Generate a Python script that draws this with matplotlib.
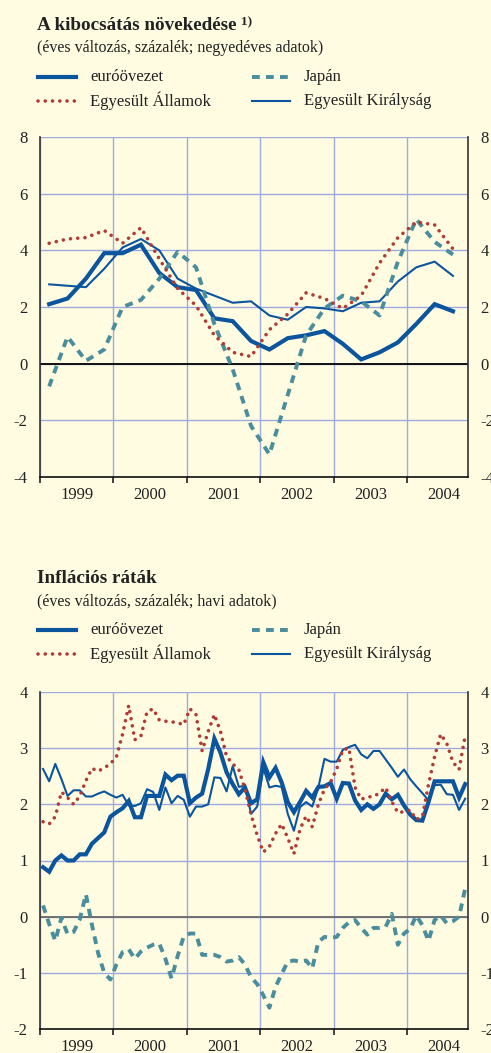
import numpy as np
import matplotlib
matplotlib.use("Agg")
import matplotlib.pyplot as plt
from matplotlib.lines import Line2D

plt.rcParams['font.family'] = ['Liberation Serif', 'DejaVu Serif']

# ---- data: output growth, quarterly 1999Q1 - 2004Q3
gdp_euro = [2.1, 2.3, 3.0, 3.9, 3.9, 4.2, 3.2, 2.7, 2.6, 1.6, 1.5, 0.8,
            0.5, 0.9, 1.0, 1.15, 0.7, 0.15, 0.4, 0.75, 1.4, 2.1, 1.85]
gdp_us = [4.25, 4.4, 4.45, 4.7, 4.25, 4.8, 3.7, 2.65, 2.05, 1.0, 0.4, 0.25,
          1.2, 1.75, 2.5, 2.3, 1.95, 2.4, 3.55, 4.45, 5.0, 4.9, 4.05]
gdp_jp = [-0.8, 0.95, 0.1, 0.5, 2.0, 2.25, 3.0, 3.95, 3.4, 1.4, -0.2, -2.2,
          -3.2, -1.1, 1.0, 1.95, 2.4, 2.2, 1.7, 3.6, 5.1, 4.3, 3.85]
gdp_uk = [2.8, 2.75, 2.7, 3.35, 4.1, 4.4, 4.0, 3.0, 2.65, 2.4, 2.15, 2.2,
          1.7, 1.55, 2.0, 1.95, 1.85, 2.15, 2.2, 2.9, 3.4, 3.6, 3.1]

# ---- data: inflation, monthly Jan 1999 - Oct 2004
inf_euro = [0.88, 0.8, 1.0, 1.09, 1.0, 1.0, 1.11, 1.11, 1.3, 1.4, 1.5, 1.78,
            1.86, 1.93, 2.06, 1.77, 1.77, 2.15, 2.15, 2.15, 2.53, 2.43, 2.51, 2.51,
            2.02, 2.12, 2.19, 2.63, 3.17, 2.92, 2.57, 2.36, 2.18, 2.3, 2.02, 2.09,
            2.75, 2.48, 2.65, 2.39, 2.04, 1.86, 2.04, 2.24, 2.12, 2.31, 2.32, 2.38,
            2.1, 2.38, 2.37, 2.07, 1.9, 2.0, 1.92, 2.0, 2.19, 2.09, 2.17, 1.98,
            1.82, 1.72, 1.71, 2.04, 2.41, 2.41, 2.41, 2.41, 2.12, 2.36]
inf_us = [1.69, 1.65, 1.78, 2.22, 2.12, 2.0, 2.15, 2.42, 2.64, 2.59, 2.65, 2.72,
          2.85, 3.25, 3.76, 3.15, 3.22, 3.65, 3.7, 3.5, 3.48, 3.47, 3.45, 3.42,
          3.7, 3.6, 2.95, 3.3, 3.6, 3.3, 2.85, 2.72, 2.62, 2.27, 1.82, 1.45,
          1.15, 1.25, 1.48, 1.65, 1.4, 1.12, 1.56, 1.79, 1.6, 2.0, 2.27, 2.4,
          2.63, 2.97, 3.0, 2.3, 2.09, 2.13, 2.14, 2.2, 2.3, 2.05, 1.85, 1.87,
          1.9, 1.73, 1.78, 2.35, 2.85, 3.25, 3.08, 2.75, 2.62, 3.22]
inf_jp = [0.2, -0.13, -0.43, -0.02, -0.31, -0.27, -0.05, 0.4, -0.15, -0.65, -1.0, -1.12,
          -0.85, -0.63, -0.58, -0.75, -0.62, -0.55, -0.5, -0.48, -0.75, -1.1, -0.7, -0.35,
          -0.3, -0.3, -0.68, -0.68, -0.68, -0.72, -0.8, -0.78, -0.72, -0.85, -1.08, -1.2,
          -1.4, -1.62, -1.25, -1.02, -0.8, -0.78, -0.8, -0.78, -0.92, -0.45, -0.36, -0.38,
          -0.36, -0.2, -0.1, -0.06, -0.2, -0.32, -0.2, -0.2, -0.18, 0.05, -0.5, -0.3,
          -0.22, 0.02, -0.15, -0.43, -0.06, 0.02, -0.12, -0.08, 0.0, 0.5]
inf_uk = [2.63, 2.41, 2.72, 2.45, 2.15, 2.25, 2.25, 2.14, 2.14, 2.19, 2.23, 2.17,
          2.12, 2.17, 1.98, 1.97, 2.02, 2.27, 2.22, 1.9, 2.3, 2.02, 2.15, 2.08,
          1.78, 1.96, 1.96, 2.0, 2.48, 2.47, 2.23, 2.68, 2.31, 2.33, 1.83, 1.96,
          2.65, 2.3, 2.33, 2.31, 1.83, 1.53, 1.95, 2.04, 1.96, 2.3, 2.81, 2.76,
          2.76, 2.97, 3.02, 3.06, 2.89, 2.82, 2.95, 2.95, 2.8, 2.65, 2.49, 2.62,
          2.45, 2.32, 2.2, 2.07, 2.34, 2.35, 2.18, 2.17, 1.9, 2.1]

years = [1999, 2000, 2001, 2002, 2003, 2004]
legend_labels = ["euróövezet", "Japán", "Egyesült Államok", "Egyesült Királyság"]

bg = '#FFFCE1'
c_blue = '#0B559E'
c_red = '#B03A34'
c_teal = '#4A8D9C'
c_grid = '#9EAAE0'

style_euro = dict(color=c_blue, lw=3.0, solid_joinstyle='miter')
style_uk = dict(color=c_blue, lw=1.5)
style_us = dict(color=c_red, lw=2.6, linestyle=(0, (0.01, 2.0)), dash_capstyle='round')
style_jp = dict(color=c_teal, lw=2.8, linestyle=(0, (2.0, 1.6)), dash_capstyle='butt')

W, H = 491, 1053
fig = plt.figure(figsize=(W / 100, H / 100), dpi=100, facecolor=bg)


def fx(px):
    return px / W


def fy(py):
    return 1 - py / H


def setup_axes(ax, ymin, ymax, zero_color):
    ax.set_facecolor(bg)
    ax.set_xlim(1999, 2004.83)
    ax.set_ylim(ymin, ymax)
    ax.set_xticks(years)
    ax.set_xticklabels([])
    ax.set_xticks([y + 0.5 for y in years], minor=True)
    ax.set_xticklabels([str(y) for y in years], minor=True)
    ax.tick_params(axis='x', which='major', direction='out', length=4, width=1.2, color='#222222')
    ax.tick_params(axis='x', which='minor', length=0, labelsize=12, pad=7, colors='#222222')
    yt = np.arange(ymin, ymax + 1, 2 if ymax > 4 else 1)
    ax.set_yticks(yt)
    ax.set_yticklabels([str(int(v)) for v in yt])
    ax.tick_params(axis='y', length=0, labelsize=12, pad=9, labelright=True, colors='#222222')
    ax.grid(True, which='major', color=c_grid, lw=1.0)
    ax.set_axisbelow(True)
    for s in ['left', 'right']:
        ax.spines[s].set_color('#333333')
        ax.spines[s].set_linewidth(1.2)
    ax.spines['top'].set_visible(False)
    ax.spines['bottom'].set_color('#111111')
    ax.spines['bottom'].set_linewidth(1.2)
    ax.axhline(0, color=zero_color, lw=1.4, zorder=2)


def draw_header(y_title, title, subtitle, sup=None):
    t = fig.text(fx(37), fy(y_title), title, fontsize=13.8, fontweight='bold',
                 color='#222222', va='baseline')
    if sup:
        fig.canvas.draw()
        bb = t.get_window_extent()
        fig.text((bb.x1 + 4) / W, (bb.y1 - 8) / H, sup, fontsize=9.5,
                 fontweight='bold', color='#222222', va='baseline')
    fig.text(fx(37), fy(y_title + 22), subtitle, fontsize=11.5, color='#222222',
             va='baseline')
    row1 = y_title + 47
    row2 = y_title + 71
    entries = [(38, row1, style_euro, legend_labels[0]),
               (252, row1, style_jp, legend_labels[1]),
               (38, row2, style_us, legend_labels[2]),
               (252, row2, style_uk, legend_labels[3])]
    for x0, yy, st, lab in entries:
        fig.add_artist(Line2D([fx(x0), fx(x0 + 38)], [fy(yy), fy(yy)],
                              transform=fig.transFigure, **st))
        fig.text(fx(x0 + 52), fy(yy), lab, fontsize=12, color='#222222',
                 va='center')


# ---- top chart
draw_header(30, "A kibocsátás növekedése", "(éves változás, százalék; negyedéves adatok)", "1)")
ax1 = fig.add_axes([fx(40), fy(477), fx(428), 340 / H])
setup_axes(ax1, -4, 8, '#111111')
xq = [1999 + (i + 0.5) / 4 for i in range(len(gdp_euro))]
ax1.plot(xq, gdp_uk, **style_uk, zorder=3)
ax1.plot(xq, gdp_euro, **style_euro, zorder=4)
ax1.plot(xq, gdp_jp, **style_jp, zorder=5)
ax1.plot(xq, gdp_us, **style_us, zorder=6)

# ---- bottom chart
draw_header(583, "Inflációs ráták", "(éves változás, százalék; havi adatok)")
ax2 = fig.add_axes([fx(40), fy(1029), fx(428), 337 / H])
setup_axes(ax2, -2, 4, '#707070')
xm = [1999 + (i + 0.5) / 12 for i in range(len(inf_euro))]
ax2.plot(xm, inf_uk, **style_uk, zorder=3)
ax2.plot(xm, inf_euro, **style_euro, zorder=4)
ax2.plot(xm, inf_jp, **style_jp, zorder=5)
ax2.plot(xm, inf_us, **style_us, zorder=6)

fig.savefig("out.png", dpi=100, facecolor=bg)
